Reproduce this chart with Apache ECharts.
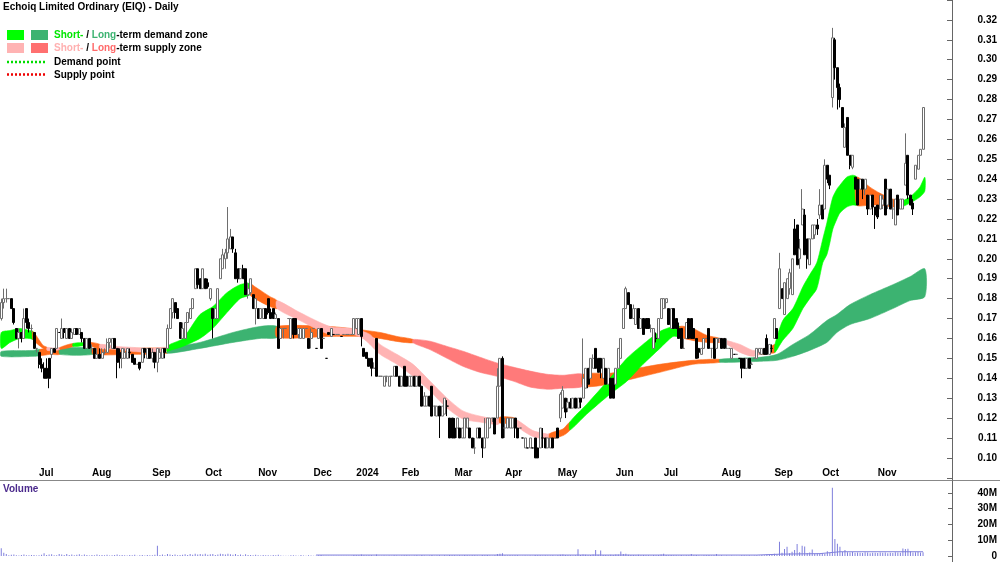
<!DOCTYPE html>
<html>
<head>
<meta charset="utf-8">
<title>EIQ Daily</title>
<script src="https://cdn.jsdelivr.net/npm/echarts@6/dist/echarts.min.js"></script>
<style>
  html, body { margin: 0; padding: 0; background: #fff; }
  #chart { width: 1000px; height: 562px; }
</style>
</head>
<body>
<div id="chart"></div>
<script>
const FONT = 'Liberation Sans, Arial, sans-serif'

// daily candles in cents: [open, close, low, high]
const candles = [
  [17.0,17.8,16.9,18.0],[17.8,18.0,17.5,18.5],[18.0,18.0,17.8,18.5],[18.0,18.0,18.0,18.0],[18.0,17.5,17.5,18.0],
  [17.5,16.8,16.7,17.5],[16.5,16.0,16.0,16.5],[16.0,16.3,15.5,16.5],[16.3,16.0,15.8,16.3],[16.0,17.0,16.0,17.5],
  [17.5,16.8,16.5,17.5],[16.8,16.5,16.3,17.0],[16.5,16.5,16.3,16.7],[16.3,15.5,15.5,16.3],[15.5,15.5,15.3,15.5],
  [15.3,14.7,14.5,15.3],[14.7,14.5,14.3,15.0],[14.5,14.0,14.0,14.8],[14.5,14.0,14.0,15.0],[15.0,14.0,13.5,15.0],
  [15.2,15.5,15.0,15.5],[15.5,15.3,15.3,15.5],[15.5,16.5,15.5,16.5],[16.3,16.3,16.3,16.3],[16.0,16.5,16.0,17.0],
  [16.5,16.3,16.0,16.5],[16.0,16.5,16.0,16.5],[16.5,16.0,16.0,16.5],[16.0,16.3,16.0,16.5],[16.2,16.5,16.2,16.5],
  [16.5,16.2,16.2,16.5],[16.2,16.5,16.2,16.5],[16.3,16.0,15.8,16.3],[16.0,15.5,15.5,16.0],[15.5,16.0,15.5,16.0],
  [16.0,15.5,15.5,16.0],[15.5,15.5,15.3,15.7],[15.5,15.0,15.0,15.5],[15.0,15.2,15.0,15.5],[15.2,15.0,15.0,15.5],
  [15.0,15.3,15.0,15.5],[15.3,15.3,15.2,15.5],[15.3,15.8,15.3,16.0],[15.8,16.0,15.5,16.0],[15.5,16.0,15.5,16.0],
  [16.0,15.5,15.5,16.0],[15.5,14.8,14.0,15.5],[15.3,15.0,14.5,15.5],[15.0,15.5,14.5,15.5],[15.0,15.3,15.0,15.5],
  [15.0,15.5,15.0,15.5],[15.3,15.3,15.0,15.5],[15.2,14.8,14.8,15.2],[15.0,14.7,14.7,15.0],[14.7,14.7,14.7,14.7],
  [14.8,14.5,14.4,14.8],[14.8,15.5,14.8,15.5],[15.5,15.3,15.0,15.5],[15.0,15.5,15.0,15.5],[15.5,15.0,15.0,15.5],
  [15.0,15.3,14.8,15.5],[15.3,14.8,14.5,15.3],[14.8,15.5,14.3,15.5],[15.0,15.3,15.0,15.5],[15.0,15.5,15.0,15.5],
  [15.5,15.3,15.0,15.5],[15.5,16.5,15.5,16.7],[16.5,17.5,16.5,17.5],[17.3,18.0,17.0,18.0],[17.8,17.3,17.0,17.8],
  [17.5,17.0,17.0,17.5],[16.8,16.0,16.0,16.8],[16.0,16.5,16.0,16.8],[16.0,16.8,16.0,16.8],[16.8,17.3,16.8,17.3],
  [17.0,17.5,17.0,17.5],[17.5,18.0,17.5,18.0],[18.5,19.5,18.5,19.5],[19.5,18.7,18.5,19.5],[19.0,18.5,18.5,19.0],
  [18.5,19.5,18.5,19.5],[19.0,18.5,18.5,19.0],[18.8,18.6,18.5,19.0],[18.0,18.5,17.9,18.5],[17.5,17.0,16.0,17.5],
  [17.0,17.5,17.0,17.5],[17.0,18.5,17.0,18.5],[19.0,20.0,19.0,20.0],[19.5,20.2,19.5,20.5],[20.0,20.3,19.5,20.5],
  [20.3,21.0,20.0,22.6],[20.5,21.1,20.5,21.5],[21.1,20.5,20.3,21.1],[20.3,19.0,19.0,20.5],[19.5,19.0,18.8,19.5],
  [19.0,19.5,19.0,19.5],[19.5,19.0,19.0,19.7],[19.5,18.2,18.2,19.5],[18.2,18.5,18.0,18.8],[18.3,19.0,18.2,19.0],
  [18.2,17.5,17.5,18.2],[17.5,18.0,16.7,18.0],[17.5,17.0,17.0,17.5],[17.0,17.5,17.0,17.5],[17.0,17.5,17.0,17.5],
  [17.5,17.0,17.0,17.5],[18.0,17.3,17.2,18.0],[17.3,17.0,17.0,17.5],[17.5,17.0,17.0,17.5],[17.0,17.2,17.0,17.3],
  [17.0,15.5,15.5,17.0],[16.0,16.5,16.0,16.5],[16.5,16.5,16.0,16.5],[16.5,16.5,16.5,16.5],[17.0,17.0,17.0,17.0],
  [16.0,17.0,16.0,17.0],[17.0,16.2,16.0,17.0],[17.0,16.2,16.2,17.0],[16.2,16.5,16.0,16.5],[16.0,16.5,16.0,16.5],
  [16.0,16.5,16.0,16.5],[16.5,16.5,16.5,16.5],[16.0,15.5,15.5,16.0],[16.0,16.3,15.5,16.5],[16.5,16.5,16.5,16.5],
  [15.5,15.5,15.5,15.5],[16.0,16.5,16.0,16.5],[16.5,15.5,15.5,16.5],[16.0,16.0,16.0,16.0],[15.0,15.0,15.0,15.0],
  [16.3,16.2,16.2,16.3],[16.1,16.5,16.1,16.5],[16.2,16.2,16.2,16.2],[16.2,16.2,16.2,16.2],[16.2,16.2,16.2,16.2],
  [16.1,16.1,16.1,16.1],[16.2,16.2,16.2,16.2],[16.2,16.2,16.2,16.2],[16.2,16.2,16.2,16.2],[16.2,16.2,16.2,16.2],
  [16.2,17.0,16.2,17.0],[16.5,17.0,16.5,17.0],[16.2,17.0,16.2,17.0],[17.0,16.1,15.6,17.0],[15.5,15.1,15.1,15.5],
  [15.3,15.0,15.0,15.3],[15.0,14.6,14.6,15.0],[15.0,14.5,14.1,15.0],[14.5,14.5,14.5,14.8],[16.0,14.1,14.1,16.0],
  [14.1,14.1,14.1,14.1],[14.1,14.1,14.1,14.1],[13.6,14.1,13.6,14.1],[14.1,14.1,13.8,14.1],[13.6,14.1,13.6,14.1],
  [14.1,14.1,14.1,14.1],[14.1,14.6,14.1,14.6],[14.6,14.1,14.1,14.6],[14.1,13.6,13.6,14.1],[13.6,14.1,13.6,14.1],
  [14.6,13.6,13.6,14.6],[14.1,13.6,13.6,14.1],[13.6,14.1,13.6,14.1],[13.6,14.1,13.6,14.1],[14.1,13.6,13.6,14.1],
  [13.6,14.1,13.6,14.1],[14.1,13.6,13.6,14.1],[13.6,12.6,12.6,13.6],[12.6,13.1,12.6,13.3],[12.6,13.1,12.6,13.1],
  [13.1,12.6,12.6,13.1],[13.6,12.1,12.1,13.6],[12.6,12.6,12.1,12.6],[12.1,12.6,12.1,12.6],[12.6,12.1,11.0,12.6],
  [12.1,12.6,12.1,12.6],[12.2,13.0,12.2,13.0],[12.6,12.6,12.1,12.9],[12.0,11.0,11.0,12.0],[12.0,11.0,11.0,12.0],
  [11.5,11.0,11.0,12.0],[11.5,12.0,11.0,12.0],[11.5,11.0,11.0,11.5],[11.0,11.5,11.0,11.5],[11.0,12.0,11.0,12.0],
  [11.5,12.0,11.5,12.0],[11.5,11.0,11.0,11.5],[11.0,10.5,10.5,11.0],[10.5,10.5,10.2,11.0],[11.0,11.5,11.0,11.5],
  [11.5,11.0,11.0,11.5],[11.0,10.5,10.0,11.0],[10.5,11.0,10.5,12.0],[11.0,12.0,11.0,12.0],[11.5,12.0,11.5,12.0],
  [12.0,12.0,11.8,12.0],[12.0,11.2,11.2,12.0],[12.0,13.6,12.0,14.5],[13.6,15.0,13.6,15.0],[15.0,11.0,11.0,15.1],
  [11.5,11.5,11.0,12.0],[11.5,12.0,11.5,12.0],[11.5,12.0,11.5,12.0],[11.5,12.0,11.5,12.0],[12.0,11.5,11.0,12.0],
  [11.5,11.0,11.0,11.5],[11.5,11.5,11.5,11.5],[11.0,11.0,11.0,11.0],[10.5,11.0,10.5,11.0],[10.5,10.5,10.5,10.5],
  [10.5,11.0,10.5,11.0],[10.5,10.5,10.5,10.5],[11.0,10.0,10.0,11.0],[10.5,10.0,10.0,10.5],[10.5,11.5,10.5,11.5],
  [11.0,11.0,10.5,11.5],[11.0,10.5,10.5,11.0],[10.5,11.0,10.5,11.0],[10.5,11.0,10.5,11.0],[11.0,10.5,10.5,11.0],
  [11.0,11.0,11.0,11.0],[11.5,11.0,11.0,11.5],[12.0,13.2,11.8,13.3],[12.5,13.4,12.5,13.6],[13.0,12.3,12.0,13.0],
  [12.5,12.8,12.3,13.0],[12.8,12.5,12.5,13.0],[12.5,13.0,12.5,13.0],[13.0,12.5,12.5,13.0],[12.5,13.0,12.5,13.0],
  [13.0,12.8,12.5,13.0],[13.0,14.0,13.0,16.0],[13.5,14.5,13.5,14.5],[14.5,13.7,13.5,14.5],[14.0,15.0,14.0,15.0],
  [14.5,15.0,14.5,15.2],[15.5,14.5,14.5,15.5],[15.0,14.3,14.3,15.0],[15.0,14.5,14.0,15.0],[14.0,15.0,14.0,15.0],
  [14.5,13.7,13.7,14.5],[13.7,14.5,13.7,14.5],[14.0,13.0,13.0,14.0],[14.0,13.0,13.0,14.0],[13.7,14.5,13.7,14.5],
  [14.5,15.5,14.5,15.5],[15.0,16.0,15.0,16.0],[16.5,17.5,16.5,17.5],[17.5,18.5,17.5,18.6],[18.3,17.7,17.7,18.3],
  [17.7,17.0,17.0,17.7],[17.0,17.5,17.0,17.7],[16.7,17.5,16.7,17.5],[17.5,16.5,16.5,17.5],[16.5,17.0,16.5,17.0],
  [17.0,16.2,16.2,17.0],[17.0,16.5,16.5,17.0],[17.0,16.5,16.5,17.0],[16.5,16.5,16.3,16.7],[15.5,16.5,15.5,16.5],
  [16.0,16.0,15.8,16.3],[16.0,17.0,16.0,17.0],[17.0,18.0,17.0,18.0],[17.5,18.0,17.5,18.0],[17.8,18.0,17.5,18.0],
  [17.5,16.7,16.7,17.5],[16.5,17.5,16.5,17.5],[17.5,16.5,16.5,17.5],[17.0,16.5,16.5,17.0],[16.5,16.0,16.0,16.8],
  [16.5,15.5,15.5,16.5],[15.5,15.5,15.5,16.0],[16.0,16.8,16.0,16.8],[17.0,16.0,16.0,17.0],[17.0,16.0,16.0,17.0],
  [16.5,16.0,16.0,16.5],[16.0,15.0,15.0,16.0],[15.5,15.3,15.0,15.5],[15.2,15.5,15.2,15.5],[15.5,16.0,15.5,16.0],
  [16.0,16.0,16.0,16.0],[16.5,15.5,15.5,16.5],[15.5,15.5,15.0,15.5],[16.0,15.0,15.0,16.0],[15.5,16.0,15.5,16.0],
  [16.0,16.0,15.8,16.0],[16.0,15.5,15.5,16.0],[16.0,15.5,15.5,16.0],[15.5,15.5,15.5,16.0],[15.5,15.5,15.5,15.5],
  [15.0,15.5,15.0,15.5],[15.2,15.2,15.2,15.2],[15.2,15.2,15.2,15.2],[15.0,15.0,15.0,15.0],[15.0,14.5,14.0,15.0],
  [15.0,14.5,14.5,15.0],[14.5,15.0,14.5,15.0],[15.0,14.5,14.5,15.0],[14.7,14.7,14.7,14.8],[15.0,15.0,15.0,15.0],
  [15.0,15.5,15.0,15.5],[15.3,15.5,15.2,15.5],[15.2,15.5,15.2,15.5],[15.5,15.2,15.2,15.5],[16.0,15.2,15.2,16.2],
  [15.2,15.7,15.2,15.7],[15.5,15.5,15.3,15.7],[16.0,17.0,16.0,17.0],[16.5,16.0,16.0,16.5],[17.5,19.5,17.5,20.3],
  [18.5,18.0,18.0,18.5],[17.2,18.8,17.2,18.8],[18.0,19.0,18.0,19.0],[18.5,19.3,18.2,19.5],[18.2,20.0,18.2,20.0],
  [21.5,20.2,20.2,22.0],[21.7,19.7,19.7,21.7],[20.0,20.5,19.5,21.0],[21.7,22.5,21.7,23.5],[22.2,20.2,20.2,22.5],
  [21.0,20.0,19.5,21.0],[19.7,21.0,19.7,21.0],[21.0,21.7,21.0,21.7],[21.2,21.7,21.0,21.7],[21.7,21.5,21.2,22.0],
  [22.2,22.7,22.0,23.5],[22.7,22.0,22.0,22.7],[22.5,24.7,22.5,25.0],[24.7,24.0,23.8,24.7],[24.2,23.7,23.5,24.2],
  [28.1,31.1,27.6,31.6],[31.0,29.6,29.0,31.1],[29.6,28.6,27.5,29.6],[28.6,28.0,27.6,28.8],[27.6,26.6,26.6,27.6],
  [25.6,26.6,25.6,26.8],[27.1,25.2,25.2,27.1],[25.2,24.7,24.5,25.2],[24.6,25.2,24.5,25.2],[24.1,23.5,23.5,24.1],
  [24.0,22.7,22.7,24.0],[23.5,24.0,23.5,24.0],[24.0,23.5,23.0,24.0],[23.5,24.0,23.2,24.0],[23.2,22.5,22.2,23.2],
  [22.5,23.2,22.5,23.2],[23.2,22.6,22.2,23.2],[22.6,22.2,21.5,22.6],[22.7,22.1,22.0,22.7],[22.5,23.2,22.5,23.2],
  [22.7,23.0,22.5,23.2],[24.0,22.2,22.2,24.0],[22.7,23.5,22.5,23.5],[23.5,22.5,22.5,23.5],[22.5,22.5,22.0,23.0],
  [21.7,23.0,21.7,23.0],[23.2,22.2,22.2,23.2],[22.5,23.0,22.5,23.0],[22.5,23.0,22.5,23.0],[23.7,24.8,23.7,26.3],
  [25.2,23.2,23.0,25.2],[23.2,22.7,22.7,23.2],[22.8,22.5,22.2,23.0],[24.0,24.7,24.0,24.7],[24.5,25.2,24.5,25.2],
  [25.2,25.5,25.2,25.5],[25.5,27.6,25.5,27.6]
]

// daily volume, millions of shares
const volumes = [
  4.9,2.0,1.2,0.4,0.8,1.0,0.5,0.3,0.6,0.9, 0.5,0.4,0.7,0.6,0.3,0.5,0.8,1.7,0.6,0.9,
  1.1,0.4,0.5,1.2,1.0,0.6,1.3,0.7,1.0,0.4, 0.8,1.1,0.5,0.9,0.6,0.3,0.7,0.4,1.0,0.5,
  0.6,0.4,0.8,0.3,0.5,0.7,0.9,0.4,0.6,0.5, 0.3,0.6,0.4,0.8,0.2,0.5,0.7,0.3,0.6,0.4,
  0.5,0.8,6.5,0.6,0.9,0.4,1.2,0.9,0.7,1.0, 0.5,0.6,0.8,1.1,0.7,1.3,0.8,1.5,1.0,1.2,
  0.9,1.4,0.8,1.1,1.3,0.7,1.0,1.4,1.2,0.9, 1.5,1.1,0.8,1.3,0.6,0.9,0.5,1.1,0.7,0.6,
  0.4,0.8,0.5,0.3,0.6,0.4,0.5,0.3,0.7,0.4, 0.8,0.3,0.2,0.1,0.1,0.4,0.5,0.3,0.2,0.6,
  0.3,0.1,0.5,0.3,0.1,0.1,0.4,0.6,0.1,0.1, 0.2,0.1,0.1,0.1,0.1,0.1,0.1,0.1,0.1,0.1,
  0.6,0.4,0.5,0.9,0.5,0.3,0.4,0.5,0.2,1.0, 0.1,0.1,0.3,0.2,0.3,0.1,0.4,0.3,0.2,0.3,
  0.5,0.4,0.3,0.2,0.3,0.4,0.2,0.6,0.3,0.2, 0.3,0.6,0.2,0.3,0.4,0.2,0.5,0.3,0.6,0.5,
  0.4,0.3,0.5,0.3,0.6,0.4,0.3,0.5,0.4,0.3, 0.2,0.6,0.4,0.7,0.3,0.2,0.5,1.2,1.5,1.8,
  0.5,0.3,0.4,0.3,0.5,0.4,0.1,0.1,0.3,0.1, 0.3,0.1,0.6,0.4,0.5,0.3,0.4,0.3,0.3,0.4,
  0.1,0.4,0.8,0.9,0.6,0.4,0.5,0.3,0.4,4.3, 0.6,1.0,0.8,0.5,0.7,0.9,3.8,0.8,3.5,0.6,
  0.7,0.5,0.8,0.6,0.9,1.0,2.8,1.2,1.4,0.8, 0.7,0.6,0.5,0.8,0.4,0.6,0.5,0.4,0.3,0.7,
  0.4,0.6,0.9,1.5,0.7,0.5,0.6,0.4,0.5,0.3, 0.6,0.3,0.4,0.5,1.2,0.4,0.6,0.3,0.2,0.4,
  0.5,0.6,0.3,0.4,1.2,0.3,0.4,0.2,0.3,0.2, 0.3,0.1,0.1,0.1,0.5,0.4,0.3,0.5,0.2,0.3,
  0.4,0.3,0.6,0.5,1.0,0.7,0.6,1.4,1.0,9.1, 2.1,4.5,5.9,1.8,2.7,3.8,7.6,2.4,6.5,6.0,
  1.9,2.2,4.2,1.5,1.6,1.7,1.8,1.5,3.0,1.9, 43.4,10.8,7.7,5.9,2.6,3.8,2.4,2.2,2.6,2.1,
  2.3,2.0,1.9,2.4,2.2,1.8,2.0,2.1,1.9,2.2, 2.0,2.3,1.8,2.1,1.9,2.4,2.2,2.0,4.7,4.5,
  4.6,3.0,2.2,2.4,2.6,2.2,2.4
]

// average volume line, [bar, millions]
const volumeAvg = [[125, 0.6], [300, 0.6], [310, 1.2], [325, 1.5], [333, 2.7], [366, 2.7]]

// ribbons: [bar, low, high, zone of the stretch to the next point]
// D short demand, L long demand, S short supply, R long supply, O transition
const shortBand = [
  [0,15.5,16.3,'D'],[3.5,15.8,16.4,'D'],[7.4,16.0,16.5,'D'],[11.4,16.0,16.4,'D'],[12.6,15.95,16.35,'O'],
  [16.6,15.5,15.65,'O'],[18.2,15.4,15.55,'S'],[21.3,15.4,15.5,'S'],[23.3,15.45,15.55,'O'],[28.5,15.6,15.75,'D'],
  [34,15.65,15.8,'D'],[35.2,15.65,15.8,'O'],[39.2,15.5,15.7,'S'],[46,15.45,15.6,'S'],[52.3,15.35,15.55,'S'],
  [59,15.3,15.5,'S'],[65.8,15.35,15.55,'D'],[67,15.4,15.7,'D'],[72.1,15.6,16.0,'D'],[78.9,16.0,17.2,'D'],
  [84,16.5,17.6,'D'],[89.6,17.3,18.3,'D'],[94.8,18.0,18.7,'D'],[98.7,18.2,18.75,'O'],[100.7,18.0,18.6,'O'],
  [106.7,17.6,18.1,'O'],[109.5,17.5,17.9,'S'],[118.6,16.9,17.3,'S'],[130.5,16.2,16.6,'S'],[139.6,16.2,16.5,'S'],
  [143.6,16.0,16.35,'S'],[146.4,15.7,16.2,'S'],[150.4,15.2,15.7,'S'],[157.1,14.7,15.2,'S'],[163.5,14.1,14.7,'S'],
  [170.2,13.36,13.86,'S'],[177,12.5,13.0,'S'],[183.3,11.95,12.36,'S'],[190,11.8,12.1,'S'],[196.8,11.67,11.95,'S'],
  [198,11.75,12.05,'O'],[203.2,11.73,12.03,'O'],[204.7,11.6,11.9,'S'],[211.1,11.07,11.37,'S'],[216.7,10.95,11.2,'S'],
  [217.8,10.95,11.22,'O'],[223,11.12,11.45,'O'],[225.8,11.4,11.8,'D'],[232.5,12.2,12.7,'D'],[241.7,13.2,14.0,'D'],
  [248.4,13.85,15.0,'D'],[254.8,14.7,15.7,'D'],[261.5,15.5,16.35,'D'],[266.7,16.1,16.6,'D'],[269.5,16.1,16.6,'O'],
  [274.6,15.9,16.5,'O'],[280.2,15.8,16.15,'O'],[285.3,15.8,16.0,'S'],[288.1,15.7,15.9,'S'],[293.3,15.3,15.7,'S'],
  [298.4,15.1,15.4,'S'],[301.2,15.2,15.4,'O'],[305.2,15.25,15.55,'O'],[307.2,15.3,15.7,'D'],[310.3,15.9,16.9,'D'],
  [314.3,16.5,17.5,'D'],[318.3,17.5,18.6,'D'],[321,18.0,19.2,'D'],[323.8,18.5,19.8,'D'],[326.2,19.8,21.0,'D'],
  [327.8,20.2,21.8,'D'],[329,20.8,22.5,'D'],[330.2,21.5,23.1,'D'],[331.8,22.0,23.5,'D'],[333,22.3,23.7,'D'],
  [335.7,22.6,24.1,'D'],[338.1,22.7,24.2,'D'],[339.7,22.7,24.1,'O'],[344.9,22.7,23.6,'O'],[348.8,22.7,23.3,'O'],
  [354,22.6,23.0,'O'],[358,22.65,22.9,'D'],[360.8,22.8,23.1,'D'],[364.7,23.1,23.6,'D'],[366.7,23.4,24.1,'D']
]

const longBand = [
  [0,15.1,15.35,'L'],[12.6,15.1,15.4,'L'],[15.4,15.15,15.45,'O'],[19.3,15.2,15.45,'O'],[23.3,15.2,15.5,'L'],
  [36.4,15.2,15.5,'O'],[51,15.2,15.5,'O'],[65.8,15.25,15.5,'L'],[78.9,15.5,15.8,'L'],[92,15.8,16.3,'L'],
  [102.7,16.0,16.6,'L'],[109.5,16.05,16.6,'O'],[130.5,16.1,16.6,'O'],[142.4,16.1,16.44,'O'],[150.4,16.0,16.3,'O'],
  [157.1,15.85,16.1,'O'],[163.5,15.78,15.95,'R'],[170.2,15.44,15.86,'R'],[177,15.0,15.6,'R'],[183.3,14.6,15.36,'R'],
  [190,14.3,15.06,'R'],[196.8,14.1,14.77,'R'],[203.2,13.86,14.56,'R'],[209.9,13.56,14.36,'R'],[216.7,13.45,14.2,'R'],
  [223,13.5,14.15,'R'],[231,13.6,14.2,'O'],[241.7,13.7,14.25,'O'],[248.4,13.9,14.4,'O'],[261.5,14.3,14.7,'O'],
  [274.6,14.7,14.9,'O'],[285.3,14.8,14.95,'L'],[301.2,14.85,15.05,'L'],[308,14.9,15.2,'L'],[314.3,15.1,15.7,'L'],
  [321,15.4,16.2,'L'],[327.8,15.8,16.9,'L'],[331.8,16.3,17.2,'L'],[337,16.7,17.7,'L'],[344.9,17.0,18.2,'L'],
  [354,17.5,18.7,'L'],[360.8,17.9,19.1,'L'],[366.7,18.1,19.5,'L']
]

const slotCount = 378
const monthStarts = [15, 36, 60, 81, 102, 124, 141, 159, 180, 200, 221, 244, 263, 286, 307, 326, 348]
const monthLabels = ['Jul', 'Aug', 'Sep', 'Oct', 'Nov', 'Dec', '2024', 'Feb', 'Mar', 'Apr', 'May', 'Jun', 'Jul', 'Aug', 'Sep', 'Oct', 'Nov']

const zoneColors = { D: '#00ff00', L: '#3cb371', S: '#ffb3b3', R: '#ff7a7a', O: '#ff6a1a' }

const categories = Array.from({ length: slotCount }, (_, i) => String(i))
const isMonthStart = (index) => monthStarts.indexOf(index) >= 0

// group ribbon stretches of the same zone into one polygon each
const bandRuns = (band) => {
  const runs = []
  let start = 0
  for (let k = 1; k < band.length; k++) {
    if (k === band.length - 1 || band[k][3] !== band[start][3]) {
      runs.push({ zone: band[start][3], pts: band.slice(start, k + 1) })
      start = k
    }
  }
  return runs
}

const ribbonSeries = (name, band, z) => {
  const runs = bandRuns(band)
  return {
    type: 'custom',
    name,
    z,
    silent: true,
    xAxisIndex: 0,
    yAxisIndex: 0,
    data: runs.map(r => [Math.round(r.pts[0][0]), r.pts[0][1] / 100]),
    renderItem: (params, api) => {
      const run = runs[params.dataIndex]
      const step = api.size([1, 0])[0]
      const pt = (bar, cents) => {
        const base = Math.floor(bar)
        const p = api.coord([base, cents / 100])
        p[0] += (bar - base) * step
        return p
      }
      const upper = run.pts.map(p => pt(p[0], p[2]))
      const lower = run.pts.slice().reverse().map(p => pt(p[0], p[1]))
      const color = zoneColors[run.zone]
      return {
        type: 'polygon',
        shape: { points: upper.concat(lower), smooth: 0.25 },
        style: { fill: color, stroke: color, lineWidth: 0.6 }
      }
    }
  }
}

const chart = echarts.init(document.getElementById('chart'), null, { renderer: 'canvas' })

const labelStyle = { fontFamily: FONT, fontWeight: 'bold', fontSize: 10, color: '#000' }
const axisGrey = '#666'

const option = {
  animation: false,
  backgroundColor: '#fff',
  grid: [
    { left: 0, right: 48, top: -4.4, height: 482.2 },
    { left: 0, right: 48, top: 466, height: 14 },
    { left: 0, right: 48, top: 480, height: 76 }
  ],
  xAxis: [
    { type: 'category', gridIndex: 0, data: categories, show: false },
    {
      type: 'category', gridIndex: 1, data: categories, position: 'top',
      axisLine: { lineStyle: { color: '#888' } },
      axisTick: { inside: true, length: 3, interval: isMonthStart, lineStyle: { color: '#888' } },
      axisLabel: Object.assign({
        inside: true, margin: 2, align: 'left', interval: isMonthStart,
        formatter: (v) => monthLabels[monthStarts.indexOf(Number(v))] || ''
      }, labelStyle)
    },
    { type: 'category', gridIndex: 2, data: categories, show: false }
  ],
  yAxis: [
    {
      type: 'value', gridIndex: 0, position: 'right', min: 0.09, max: 0.33, interval: 0.01,
      axisLine: { show: true, lineStyle: { color: axisGrey } },
      axisTick: { show: true, inside: true, length: 5, lineStyle: { color: axisGrey } },
      splitLine: { show: false },
      axisLabel: Object.assign({
        align: 'right', margin: 45,
        formatter: (v) => (v < 0.095 || v > 0.325) ? '' : v.toFixed(2)
      }, labelStyle)
    },
    { type: 'value', gridIndex: 1, show: false },
    {
      type: 'value', gridIndex: 2, position: 'right', min: 0, max: 48.25, interval: 10,
      axisLine: { show: true, lineStyle: { color: axisGrey } },
      axisTick: { show: true, inside: true, length: 4, lineStyle: { color: axisGrey } },
      splitLine: { show: false },
      axisLabel: Object.assign({
        align: 'right', margin: 45, showMaxLabel: false,
        formatter: (v) => v > 45 ? '' : (v === 0 ? '0' : v + 'M')
      }, labelStyle)
    }
  ],
  series: [
    ribbonSeries('long', longBand, 1),
    ribbonSeries('short', shortBand, 2),
    {
      type: 'candlestick',
      name: 'EIQ',
      z: 5,
      xAxisIndex: 0,
      yAxisIndex: 0,
      barWidth: 2.5,
      data: candles.map(c => c.map(v => v / 100)),
      itemStyle: {
        color: '#ffffff', color0: '#000000',
        borderColor: '#6e6e6e', borderColor0: '#000000', borderWidth: 1
      }
    },
    {
      type: 'bar',
      name: 'Volume',
      xAxisIndex: 2,
      yAxisIndex: 2,
      barWidth: 1,
      data: volumes,
      itemStyle: { color: '#7f7fdc' }
    },
    {
      type: 'line',
      name: 'Average volume',
      xAxisIndex: 2,
      yAxisIndex: 2,
      data: volumeAvg,
      showSymbol: false,
      lineStyle: { color: '#7f7fdc', width: 1 }
    }
  ],
  graphic: [
    { type: 'line', shape: { x1: 0, y1: 480.5, x2: 1000, y2: 480.5 }, style: { stroke: '#888', lineWidth: 1 } },
    { type: 'line', shape: { x1: 952.5, y1: 0, x2: 952.5, y2: 562 }, style: { stroke: axisGrey, lineWidth: 1 } },
    {
      type: 'text', x: 3, y: 7,
      style: { text: 'Echoiq Limited Ordinary (EIQ) - Daily', font: 'bold 10px ' + FONT, fill: '#000', verticalAlign: 'middle' }
    },
    { type: 'rect', shape: { x: 7, y: 30, width: 17, height: 10 }, style: { fill: zoneColors.D } },
    { type: 'rect', shape: { x: 31, y: 30, width: 17, height: 10 }, style: { fill: zoneColors.L } },
    { type: 'rect', shape: { x: 7, y: 43, width: 17, height: 10 }, style: { fill: zoneColors.S } },
    { type: 'rect', shape: { x: 31, y: 43, width: 17, height: 10 }, style: { fill: '#ff7070' } },
    {
      type: 'text', x: 54, y: 35,
      style: {
        text: '{a|Short-} / {b|Long}-term demand zone',
        font: 'bold 10px ' + FONT, fill: '#000', verticalAlign: 'middle',
        rich: { a: { fill: '#00e600', font: 'bold 10px ' + FONT }, b: { fill: '#3cb371', font: 'bold 10px ' + FONT } }
      }
    },
    {
      type: 'text', x: 54, y: 48,
      style: {
        text: '{a|Short-} / {b|Long}-term supply zone',
        font: 'bold 10px ' + FONT, fill: '#000', verticalAlign: 'middle',
        rich: { a: { fill: '#ffb0b0', font: 'bold 10px ' + FONT }, b: { fill: '#ff6a6a', font: 'bold 10px ' + FONT } }
      }
    },
    { type: 'line', shape: { x1: 7, y1: 62, x2: 45, y2: 62 }, style: { stroke: '#00dd00', lineWidth: 2.5, lineDash: [2, 2] } },
    { type: 'line', shape: { x1: 7, y1: 74.5, x2: 45, y2: 74.5 }, style: { stroke: '#ee0000', lineWidth: 2.5, lineDash: [2, 2] } },
    { type: 'text', x: 54, y: 62, style: { text: 'Demand point', font: 'bold 10px ' + FONT, fill: '#000', verticalAlign: 'middle' } },
    { type: 'text', x: 54, y: 75, style: { text: 'Supply point', font: 'bold 10px ' + FONT, fill: '#000', verticalAlign: 'middle' } },
    { type: 'text', x: 3, y: 489.5, style: { text: 'Volume', font: 'bold 10px ' + FONT, fill: '#4b2a8c', verticalAlign: 'middle' } }
  ]
}

chart.setOption(option)
</script>
</body>
</html>
